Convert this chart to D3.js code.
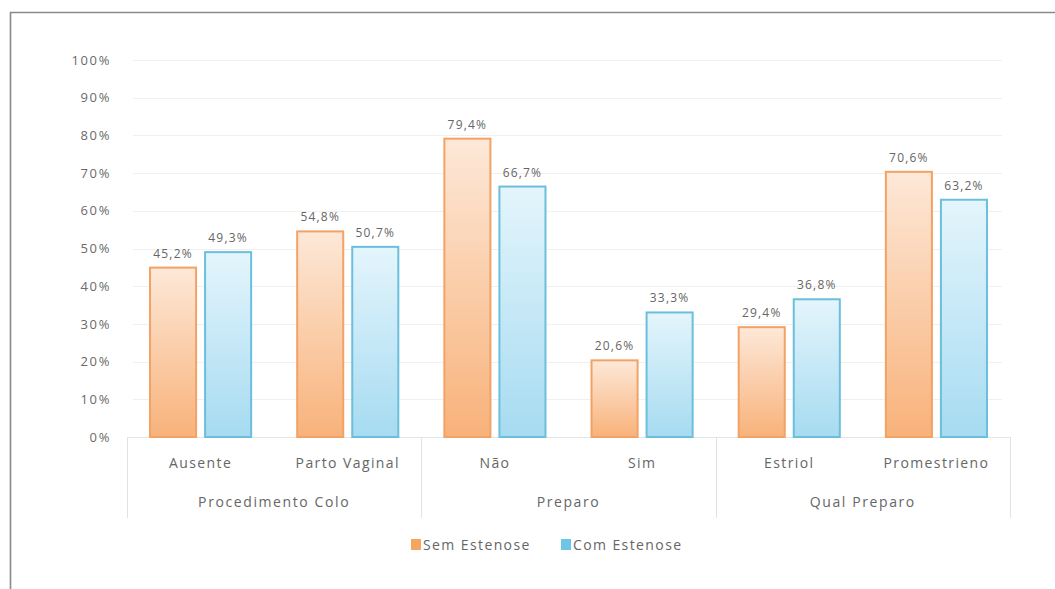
<!DOCTYPE html>
<html><head><meta charset="utf-8">
<script src="https://cdn.jsdelivr.net/npm/d3@7"></script>
<style>body{margin:0;background:#fff}svg{display:block}text{font-family:"Open Sans","Lato",sans-serif;fill:#666}</style>
</head><body><svg id="c" width="1055" height="589"></svg>
<script>
const categories = ["Ausente","Parto Vaginal","Não","Sim","Estriol","Promestrieno"];
const groups = ["Procedimento Colo","Procedimento Colo","Preparo","Preparo","Qual Preparo","Qual Preparo"];
const groupNames = ["Procedimento Colo","Preparo","Qual Preparo"];
const series = ["Sem Estenose","Com Estenose"];
const semEstenose = [45.2,54.8,79.4,20.6,29.4,70.6];
const comEstenose = [49.3,50.7,66.7,33.3,36.8,63.2];
const yTicks = [0,10,20,30,40,50,60,70,80,90,100];

const svg = d3.select("#c");
const defs = svg.append("defs");
function grad(id, top, bot){
  const g = defs.append("linearGradient").attr("id",id).attr("x1",0).attr("y1",0).attr("x2",0).attr("y2",1);
  g.append("stop").attr("offset","0%").attr("stop-color",top);
  g.append("stop").attr("offset","100%").attr("stop-color",bot);
}
grad("gO","#fde8d8","#f8b27a");
grad("gB","#e4f5fc","#a6dbf1");
const fills = ["url(#gO)","url(#gB)"];
const strokes = ["#f2a265","#6bbfdc"];
const legendFills = ["#f5a55f","#6ec6e6"];

// frame
svg.append("path").attr("d","M10.5,589 L10.5,12.5 L1055,12.5").attr("fill","none").attr("stroke","#8a8a8a").attr("stroke-width",1.6);

const x0 = d3.scaleBand().domain(categories).range([127,1010]);
const x1 = d3.scaleBand().domain(series).range([0,x0.bandwidth()]).paddingInner(0.127).paddingOuter(0.4);
const y = d3.scaleLinear().domain([0,100]).range([437,60]);

// gridlines
svg.append("g").selectAll("line").data(yTicks.slice(1)).join("line")
  .attr("x1",133).attr("x2",1002).attr("y1",d=>Math.round(y(d))+0.5).attr("y2",d=>Math.round(y(d))+0.5)
  .attr("stroke","#f0f0f0").attr("stroke-width",1);

// y axis
const yAxis = d3.axisLeft(y).tickValues(yTicks).tickFormat(d=>d+"%").tickSize(0).tickPadding(0);
const gy = svg.append("g").attr("transform","translate(111,0)").call(yAxis);
gy.select(".domain").remove();
gy.selectAll("text").style("font-size","13px").style("letter-spacing","1.6px").style("fill","#6a6a6a").attr("font-family",null);

// axis baseline
svg.append("line").attr("x1",127).attr("x2",1010).attr("y1",437.5).attr("y2",437.5).attr("stroke","#e4e4e4");

// bars
const data = categories.map((c,i)=>({c, vals:[semEstenose[i],comEstenose[i]]}));
const cg = svg.append("g").selectAll("g").data(data).join("g").attr("transform",d=>`translate(${x0(d.c)},0)`);
cg.selectAll("rect").data(d=>d.vals.map((v,j)=>({v,s:series[j],j}))).join("rect")
  .attr("x",d=>x1(d.s)+1).attr("width",x1.bandwidth()-2)
  .attr("y",d=>y(d.v)+1).attr("height",d=>y(0)-y(d.v)-1)
  .attr("fill",d=>fills[d.j]).attr("stroke",d=>strokes[d.j]).attr("stroke-width",2);
cg.selectAll("text.lbl").data(d=>d.vals.map((v,j)=>({v,s:series[j],j}))).join("text").attr("class","lbl")
  .attr("x",d=>x1(d.s)+x1.bandwidth()/2).attr("y",d=>y(d.v)-9)
  .attr("text-anchor","middle").style("font-size","12px").style("letter-spacing","1.2px")
  .text(d=>d3.format(".1f")(d.v).replace(".",",")+"%");

// x axis category labels
const xAxis = d3.axisBottom(x0).tickSize(0).tickPadding(0);
const gx = svg.append("g").attr("transform","translate(0,468)").call(xAxis);
gx.select(".domain").remove();
gx.selectAll("text").attr("dy",0).style("font-size","14px").style("letter-spacing","1.4px").style("fill","#666").attr("font-family",null);

// group labels and separators
const gStarts = groupNames.map(g=>x0(categories[groups.indexOf(g)]));
const gEnds = groupNames.map(g=>x0(categories[groups.lastIndexOf(g)])+x0.bandwidth());
svg.append("g").selectAll("text").data(groupNames).join("text")
  .attr("x",(d,i)=>(gStarts[i]+gEnds[i])/2).attr("y",507).attr("text-anchor","middle")
  .style("font-size","14px").style("letter-spacing","1.6px").text(d=>d);
const seps = [gStarts[0]].concat(gEnds);
svg.append("g").selectAll("line").data(seps).join("line")
  .attr("x1",d=>Math.round(d)+0.5).attr("x2",d=>Math.round(d)+0.5).attr("y1",437).attr("y2",518)
  .attr("stroke","#e2e2e2");

// legend
const legX = [411,561];
const lg = svg.append("g").selectAll("g").data(series).join("g").attr("transform",(d,i)=>`translate(${legX[i]},539)`);
lg.append("rect").attr("width",10).attr("height",11).attr("fill",(d,i)=>legendFills[i]);
lg.append("text").attr("x",12).attr("y",11).style("font-size","14px").style("letter-spacing","1.4px").text(d=>d);
</script></body></html>
